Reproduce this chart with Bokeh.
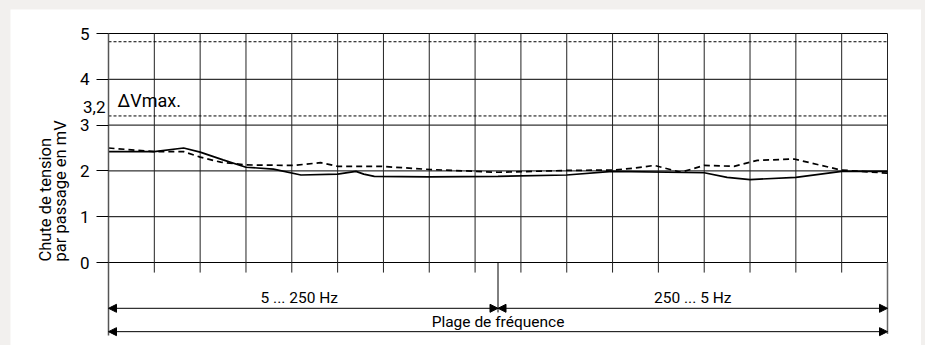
import math

from bokeh.embed import file_html
from bokeh.layouts import column
from bokeh.models import Arrow, FixedTicker, Label, NormalHead, Range1d
from bokeh.plotting import figure
from bokeh.resources import INLINE

FONT = "Roboto"

# Sweep position in grid divisions: 5 Hz -> 250 Hz (0..8.5), then 250 Hz -> 5 Hz (8.5..17)
solid_x = [0, 1.0, 1.64, 2.0, 2.5, 3.0, 3.6, 4.2, 5.0, 5.4, 5.57, 5.8, 7.0, 8.5,
           10.0, 11.0, 13.0, 13.5, 14.0, 15.0, 16.0, 17.0]
solid_y = [2.42, 2.42, 2.50, 2.41, 2.24, 2.08, 2.04, 1.91, 1.93, 1.99, 1.93, 1.88, 1.87, 1.88,
           1.91, 1.99, 1.96, 1.86, 1.81, 1.86, 1.99, 1.99]

dashed_x = [0, 1.0, 1.64, 2.0, 2.45, 3.0, 4.05, 4.63, 5.0, 5.94, 7.03, 8.5,
            10.0, 11.03, 11.47, 11.91, 12.49, 13.0, 13.65, 14.16, 14.96, 15.47, 15.98, 17.0]
dashed_y = [2.50, 2.42, 2.42, 2.30, 2.19, 2.13, 2.12, 2.18, 2.10, 2.10, 2.03, 1.97,
            2.01, 2.02, 2.06, 2.12, 1.97, 2.12, 2.10, 2.23, 2.26, 2.14, 2.02, 1.95]

y_ticks = [0, 1, 2, 3, 4, 5]
dv_max = 3.2
dv_max_label = "3,2"
dv_max_name = "ΔVmax."
upper_limit = 4.82
sweep_end = 17
sweep_turn = 8.5
grid_x = list(range(0, sweep_end + 1))
band_labels = ["5 ... 250 Hz", "250 ... 5 Hz"]
range_label = "Plage de fréquence"
y_label_lines = ["Chute de tension", "par passage en mV"]

# rows of the band area below the zero line
band_row = -1.0
range_row = -1.51
tick_ext = -0.22

# canvas geometry: the whole canvas is the frame, the grid sits inside it
W, H = 911, 336
grid_left, grid_right = 98, 877      # canvas px of x = 0 and x = 17
grid_top, grid_zero = 24, 253         # canvas px of y = 5 and y = 0
sx = (grid_right - grid_left) / sweep_end
sy = (grid_zero - grid_top) / y_ticks[-1]
x_range = Range1d(-grid_left / sx, sweep_end + (W - grid_right) / sx)
y_range = Range1d(-(H - grid_zero) / sy, y_ticks[-1] + grid_top / sy)

p = figure(width=W, height=H, margin=(9, 4, 0, 10),
           x_range=x_range, y_range=y_range, x_axis_location=None,
           output_backend="svg", toolbar_location=None,
           min_border=0, min_border_left=0, min_border_right=0,
           min_border_top=0, min_border_bottom=0,
           background_fill_color="white", border_fill_color="white",
           outline_line_color=None)

p.xgrid.visible = False
p.ygrid.visible = False

ax = p.yaxis[0]
ax.fixed_location = 0
ax.bounds = (range_row - 0.09, y_ticks[-1])
ax.ticker = FixedTicker(ticks=y_ticks)
ax.minor_tick_line_color = None
ax.major_tick_in = 0
ax.major_tick_out = 12
ax.major_tick_line_color = "black"
ax.major_tick_line_width = 1
ax.major_label_standoff = 7
ax.major_label_text_font = FONT
ax.major_label_text_font_size = "17px"
ax.major_label_text_color = "black"
ax.axis_line_color = "#555555"
ax.axis_line_width = 1.5

# horizontal grid at the tick values
p.segment(x0=[0] * len(y_ticks), y0=y_ticks, x1=[sweep_end] * len(y_ticks), y1=y_ticks,
          line_color="black", line_width=1)
# vertical grid divisions, with short extensions below zero
p.segment(x0=grid_x, y0=tick_ext, x1=grid_x, y1=y_ticks[-1],
          line_color="#222222", line_width=1)
# right edge continues down through the band area
p.segment(x0=[sweep_end], y0=[range_row - 0.05], x1=[sweep_end], y1=[0],
          line_color="#666666", line_width=1.5)

# limit lines
p.segment(x0=[0, 0], y0=[upper_limit, dv_max], x1=[sweep_end, sweep_end],
          y1=[upper_limit, dv_max], line_color="black", line_width=1, line_dash="3 2")

p.line(solid_x, solid_y, line_color="black", line_width=1.7)
p.line(dashed_x, dashed_y, line_color="black", line_width=1.7, line_dash="6 4")

# turn-around marker
p.segment(x0=[sweep_turn], y0=[0], x1=[sweep_turn], y1=[band_row - 0.09],
          line_color="black", line_width=1)


def head():
    return NormalHead(size=8, fill_color="black", line_color="black", line_width=1)


for xs, xe, yy in ((0, sweep_turn, band_row), (sweep_turn, sweep_end, band_row),
                   (0, sweep_end, range_row)):
    p.add_layout(Arrow(start=head(), end=head(), x_start=xs, y_start=yy, x_end=xe, y_end=yy,
                       line_color="black", line_width=1))

txt = dict(text_font=FONT, text_font_size="15.5px", text_color="black")

p.add_layout(Label(x=sweep_turn / 2, y=band_row, x_offset=-4, y_offset=10, text=band_labels[0],
                   text_align="center", text_baseline="alphabetic", **txt))
p.add_layout(Label(x=(sweep_turn + sweep_end) / 2, y=band_row, y_offset=10, text=band_labels[1],
                   text_align="center", text_baseline="alphabetic", **txt))
p.add_layout(Label(x=sweep_turn, y=range_row, y_offset=10, text=range_label,
                   text_align="center", text_baseline="alphabetic", **txt))

p.add_layout(Label(x=0, y=dv_max, x_offset=9, y_offset=15, text=dv_max_name,
                   text_align="left", text_baseline="alphabetic",
                   text_font=FONT, text_font_size="18px", text_color="black"))
p.add_layout(Label(x=0, y=dv_max, x_offset=-3, y_offset=9, text=dv_max_label,
                   text_align="right", text_baseline="alphabetic",
                   text_font=FONT, text_font_size="17px", text_color="black"))

for i, line in enumerate(y_label_lines):
    p.add_layout(Label(x=0, y=0, x_offset=-63 + 15 * i, y_offset=1, text=line,
                       angle=math.pi / 2, text_align="left", text_baseline="middle",
                       text_font=FONT, text_font_size="16.5px", text_color="black"))

page = column(p, width=925, height=345, styles={"background-color": "#f2f0ee"})

open("out.html", "w").write(file_html(page, INLINE))
